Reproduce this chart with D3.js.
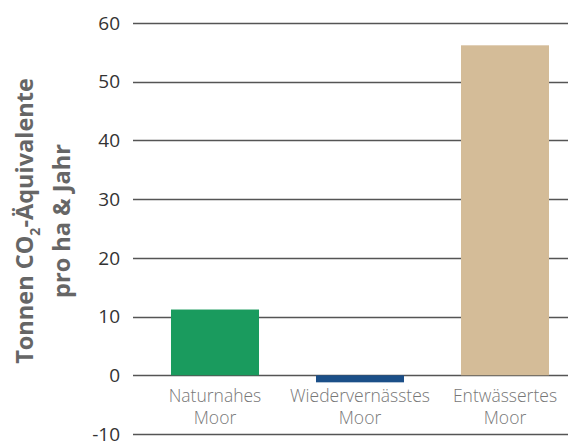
<!DOCTYPE html>
<html>
<head>
<meta charset="utf-8">
<script src="https://cdn.jsdelivr.net/npm/d3@7"></script>
<style>
  body { margin: 0; background: #fff; }
  svg { display: block; font-family: "Open Sans", "Noto Sans", sans-serif; }
</style>
</head>
<body>
<svg id="chart" width="568" height="441"></svg>
<script>
const categories = [['Naturnahes', 'Moor'], ['Wiedervernässtes', 'Moor'], ['Entwässertes', 'Moor']];
const values = [11.2, -1.2, 56.2];
const barColors = ['#1a9b5e', '#1b4f88', '#d4bc98'];
const yTicks = [-10, 0, 10, 20, 30, 40, 50, 60];

const svg = d3.select('#chart');

const y = d3.scaleLinear().domain([-10, 60]).range([434, 23]);
const x = d3.scaleBand()
  .domain(d3.range(categories.length))
  .range([133, 587])
  .paddingInner(0.393)
  .paddingOuter(0.262);

// grid lines + tick labels
const gGrid = svg.append('g');
gGrid.selectAll('line')
  .data(yTicks)
  .enter()
  .append('line')
  .attr('x1', 133)
  .attr('x2', 568)
  .attr('y1', d => Math.round(y(d)) + 0.5)
  .attr('y2', d => Math.round(y(d)) + 0.5)
  .style('stroke', '#555')
  .style('stroke-width', 1.3);

gGrid.selectAll('text')
  .data(yTicks)
  .enter()
  .append('text')
  .attr('x', 120)
  .attr('y', d => y(d))
  .attr('dy', '0.35em')
  .attr('text-anchor', 'end')
  .style('font-size', '19px')
  .style('fill', '#333')
  .text(d => d);

// bars
svg.append('g').selectAll('rect')
  .data(values)
  .enter()
  .append('rect')
  .attr('x', (d, i) => x(i))
  .attr('width', x.bandwidth())
  .attr('y', d => y(Math.max(0, d)))
  .attr('height', d => Math.abs(y(d) - y(0)))
  .style('fill', (d, i) => barColors[i]);

// category labels
const gCat = svg.append('g');
categories.forEach((lines, i) => {
  const t = gCat.append('text')
    .attr('text-anchor', 'middle')
    .style('font-size', '17.5px')
    .style('font-weight', 300)
    .style('fill', '#777');
  lines.forEach((l, j) => {
    t.append('tspan')
      .attr('x', x(i) + x.bandwidth() / 2)
      .attr('y', 402 + j * 22)
      .text(l);
  });
});

// y axis title
const title = svg.append('g')
  .attr('transform', 'translate(0,221) rotate(-90)')
  .style('font-size', '23.5px')
  .style('font-weight', 700)
  .style('fill', '#666');
const t1 = title.append('text').attr('x', 0).attr('y', 33).attr('text-anchor', 'middle');
t1.append('tspan').text('Tonnen CO');
t1.append('tspan').attr('dy', 7).style('font-size', '14px').text('2');
t1.append('tspan').attr('dy', -7).text('-Äquivalente');
title.append('text').attr('x', 0).attr('y', 70).attr('text-anchor', 'middle').text('pro ha & Jahr');
</script>
</body>
</html>
